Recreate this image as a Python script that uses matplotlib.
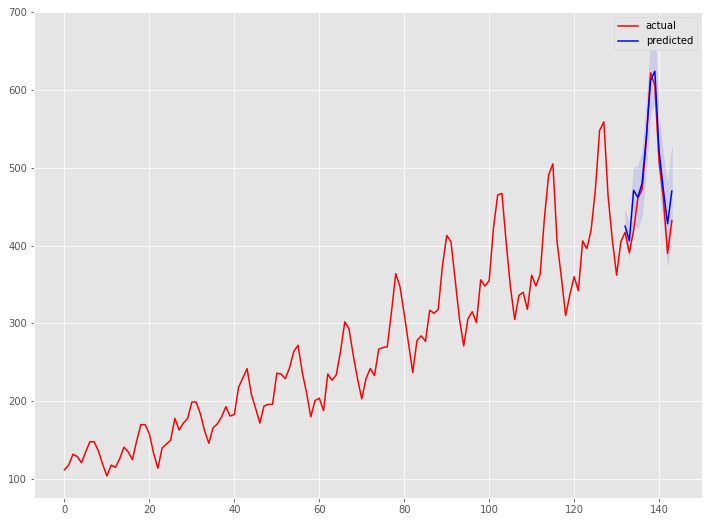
import numpy as np
import matplotlib
matplotlib.use("Agg")
import matplotlib.pyplot as plt

plt.style.use("ggplot")

# pasajeros mensuales (serie real)
actual = [112, 118, 132, 129, 121, 135, 148, 148, 136, 119, 104, 118,
          115, 126, 141, 135, 125, 149, 170, 170, 158, 133, 114, 140,
          145, 150, 178, 163, 172, 178, 199, 199, 184, 162, 146, 166,
          171, 180, 193, 181, 183, 218, 230, 242, 209, 191, 172, 194,
          196, 196, 236, 235, 229, 243, 264, 272, 237, 211, 180, 201,
          204, 188, 235, 227, 234, 264, 302, 293, 259, 229, 203, 229,
          242, 233, 267, 269, 270, 315, 364, 347, 312, 274, 237, 278,
          284, 277, 317, 313, 318, 374, 413, 405, 355, 306, 271, 306,
          315, 301, 356, 348, 355, 422, 465, 467, 404, 347, 305, 336,
          340, 318, 362, 348, 363, 435, 491, 505, 404, 359, 310, 337,
          360, 342, 406, 396, 420, 472, 548, 559, 463, 407, 362, 405,
          417, 391, 419, 461, 472, 535, 622, 606, 508, 461, 390, 432]

# prediccion de los ultimos 12 meses
pred_idx = list(range(132, 144))
predicted = [425, 406, 471, 462, 480, 540, 612, 624, 522, 472, 428, 470]
lower = [405, 385, 432, 422, 440, 500, 572, 582, 482, 432, 375, 420]
upper = [445, 427, 500, 502, 520, 580, 655, 675, 565, 515, 478, 527]

fig, ax = plt.subplots(figsize=(710 / 72, 524 / 72), dpi=72)
fig.subplots_adjust(left=0.048, right=0.989, top=0.977, bottom=0.05)

ax.plot(range(len(actual)), actual, color="red", label="actual")
ax.plot(pred_idx, predicted, color="blue", label="predicted")
ax.fill_between(pred_idx, lower, upper, color="b", alpha=0.1)

ax.set_ylim(76, 700)
ax.legend(loc="upper right")

plt.savefig("out.png")
